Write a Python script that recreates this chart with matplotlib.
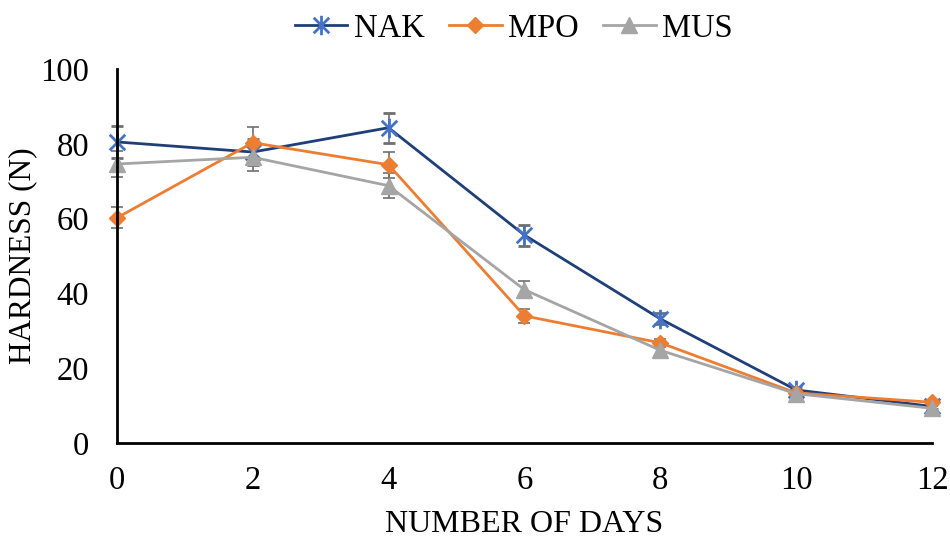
import numpy as np
import matplotlib.pyplot as plt
from matplotlib.path import Path

plt.rcParams['font.family'] = ['Liberation Serif', 'DejaVu Serif']

days = [0, 2, 4, 6, 8, 10, 12]
nak = [80.5, 77.8, 84.3, 55.6, 33.2, 14.2, 9.8]
mpo = [60.2, 80.3, 74.4, 34.0, 26.8, 13.4, 10.9]
mus = [74.6, 76.4, 68.8, 41.0, 24.8, 13.2, 9.3]
nak_err = [4.2, 3.5, 4.0, 2.8, 1.5, 0.8, 0.6]
mpo_err = [2.8, 4.2, 3.5, 1.8, 1.0, 0.8, 0.6]
mus_err = [3.6, 3.7, 3.4, 2.2, 1.2, 0.8, 0.6]

# excel-style star: X plus a vertical bar
star = Path([(-1, -1), (1, 1), (-1, 1), (1, -1), (0, -1.25), (0, 1.25)],
            [Path.MOVETO, Path.LINETO, Path.MOVETO, Path.LINETO, Path.MOVETO, Path.LINETO])

fig = plt.figure(figsize=(9.5, 5.39), dpi=100)
ax = fig.add_axes([0.123, 0.178, 0.858, 0.694])

err_kw = dict(ecolor='#6f6f6f', elinewidth=1.2, capsize=4.5, capthick=1.2)
ax.errorbar(days, nak, yerr=nak_err, color='#203f78', lw=2, marker=star,
            ms=14, mew=2, mec='#4472C4', label='NAK', **err_kw)
ax.errorbar(days, mpo, yerr=mpo_err, color='#ED7D31', lw=2, marker='D',
            ms=8, mec='#ED7D31', mfc='#ED7D31', label='MPO', **err_kw)
ax.errorbar(days, mus, yerr=mus_err, color='#A5A5A5', lw=2, marker='^',
            ms=12, mec='#A5A5A5', mfc='#A5A5A5', label='MUS', **err_kw)

ax.set_xlim(0, 12)
ax.set_ylim(0, 100)
ax.set_xticks(days)
ax.set_yticks([0, 20, 40, 60, 80, 100])
ax.tick_params(length=0, labelsize=23.5)
ax.tick_params(axis='y', pad=20)
ax.tick_params(axis='x', pad=16)
for s in ['top', 'right']:
    ax.spines[s].set_visible(False)
for s in ['left', 'bottom']:
    ax.spines[s].set_linewidth(2)
    ax.spines[s].set_color('black')
for a in ax.lines + ax.collections:
    a.set_clip_on(False)

ax.set_xlabel('NUMBER OF DAYS', fontsize=23, labelpad=10)
ax.set_ylabel('HARDNESS (N)', fontsize=22.5, labelpad=2)

handles, labels = ax.get_legend_handles_labels()
handles = [h[0] for h in handles]
fig.legend(handles, labels, loc='upper center', bbox_to_anchor=(0.541, 1.03),
           ncol=3, frameon=False, fontsize=23.5, handlelength=1.6,
           columnspacing=0.75, handletextpad=0.2)

fig.savefig('out.png', dpi=100)
